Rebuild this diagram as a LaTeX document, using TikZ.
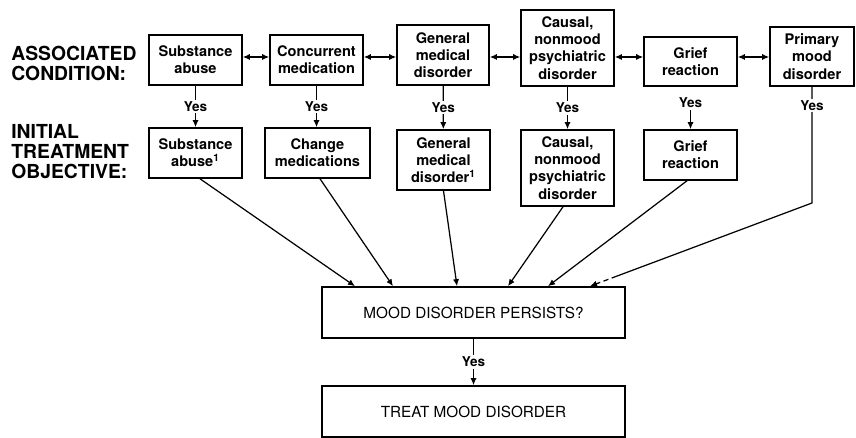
\documentclass[tikz,border=0pt]{standalone}
\usepackage{fontspec}
\setmainfont{TeX Gyre Heros}
\usetikzlibrary{arrows.meta,calc}

\begin{document}
\begin{tikzpicture}[
    box/.style={draw, line width=0.9pt, align=center, inner sep=1pt, font=\fontsize{8.3}{9.8}\selectfont\bfseries},
    wide/.style={draw, line width=0.9pt, minimum width=6.06cm, minimum height=1.02cm, font=\fontsize{8.7}{10}\selectfont},
    yes/.style={fill=white, inner sep=1pt, font=\fontsize{7.7}{9}\selectfont\bfseries},
    head/.style={anchor=west, align=left, inner sep=0pt, font=\fontsize{11}{11.3}\selectfont\bfseries},
    link/.style={line width=0.7pt, -{Latex[length=4pt, width=3.5pt]}},
    both/.style={line width=0.7pt, {Latex[length=4pt, width=3.5pt]}-{Latex[length=4pt, width=3.5pt]}}
  ]
      \useasboundingbox (0,0) rectangle (17.12,-8.76);
      \node[head] (H1) at (0.22,-1.27) {ASSOCIATED\\CONDITION:};
      \node[head] (H2) at (0.22,-3.03) {INITIAL\\TREATMENT\\OBJECTIVE:};
      \node[box, minimum width=1.86cm, minimum height=1.00cm] (A1) at (3.91,-1.20) {Substance\\abuse};
      \node[box, minimum width=1.86cm, minimum height=1.00cm] (A2) at (6.33,-1.20) {Concurrent\\medication};
      \node[box, minimum width=1.84cm, minimum height=1.20cm] (A3) at (8.86,-1.10) {General\\medical\\disorder};
      \node[box, minimum width=1.86cm, minimum height=1.52cm] (A4) at (11.35,-0.96) {Causal,\\nonmood\\psychiatric\\disorder};
      \node[box, minimum width=1.86cm, minimum height=0.98cm] (A5) at (13.81,-1.23) {Grief\\reaction};
      \node[box, minimum width=1.68cm, minimum height=1.18cm] (A6) at (16.24,-1.13) {Primary\\mood\\disorder};
      \node[box, minimum width=1.86cm, minimum height=1.00cm] (T1) at (3.91,-3.06) {Substance\\abuse\textsuperscript{1}};
      \node[box, minimum width=2.10cm, minimum height=1.00cm] (T2) at (6.35,-3.06) {Change\\medications};
      \node[box, minimum width=1.86cm, minimum height=1.20cm] (T3) at (8.87,-3.20) {General\\medical\\disorder\textsuperscript{1}};
      \node[box, minimum width=1.86cm, minimum height=1.52cm] (T4) at (11.35,-3.36) {Causal,\\nonmood\\psychiatric\\disorder};
      \node[box, minimum width=1.86cm, minimum height=1.00cm] (T5) at (13.81,-3.10) {Grief\\reaction};
      \node[wide] (P) at (9.47,-6.25) {MOOD DISORDER PERSISTS?};
      \node[wide] (R) at (9.47,-8.23) {TREAT MOOD DISORDER};
      \coordinate (h) at (0,-1.14);
      \draw[both] (A1.east |- h) -- (A2.west |- h);
      \draw[both] (A2.east |- h) -- (A3.west |- h);
      \draw[both] (A3.east |- h) -- (A4.west |- h);
      \draw[both] (A4.east |- h) -- (A5.west |- h);
      \draw[both] (A5.east |- h) -- (A6.west |- h);
      \draw[link] (A1) -- node[yes] {Yes} (T1);
      \draw[link] (A2.south) -- node[yes] {Yes} (A2.south |- T2.north);
      \draw[link] (A3) -- node[yes] {Yes} (T3);
      \draw[link] (A4) -- node[yes] {Yes} (T4);
      \node[yes] (Y5) at (13.81,-2.06) {Yes};
      \draw[link] (Y5) -- (T5);
      \coordinate (E1) at ([xshift=-2.37cm]P.north);
      \coordinate (E2) at ([xshift=-1.61cm]P.north);
      \coordinate (E3) at ([xshift=-0.33cm]P.north);
      \coordinate (E4) at ([xshift=0.69cm]P.north);
      \coordinate (E5) at ([xshift=1.49cm]P.north);
      \coordinate (E6) at ([xshift=2.33cm]P.north);
      \draw[link] ([xshift=0.09cm]T1.south) -- (E1);
      \draw[link] ([xshift=0.05cm]T2.south) -- (E2);
      \draw[link] (T3.south) -- (E3);
      \draw[link] ([xshift=-0.09cm]T4.south) -- (E4);
      \draw[link] ([xshift=-0.07cm]T5.south) -- (E5);
      \coordinate (B) at (A6.south |- 0,-4.06);
      \coordinate (C) at ($(B)!0.88!(E6)$);
      \draw[line width=0.7pt] (A6.south) -- node[yes, pos=0.16] {Yes} (B) -- (C);
      \draw[link, densely dashed] (C) -- (E6);
      \draw[link] (P) -- node[yes] {Yes} (R);
    \end{tikzpicture}
\end{document}
